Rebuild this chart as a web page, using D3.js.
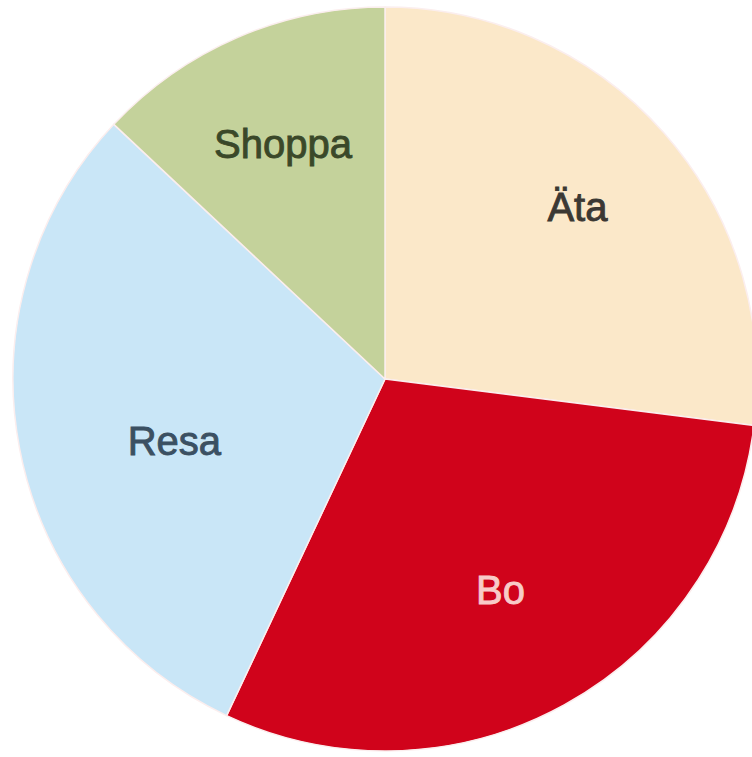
<!DOCTYPE html>
<html>
<head>
<meta charset="utf-8">
<script src="https://cdn.jsdelivr.net/npm/d3@7"></script>
<style>
  html, body { margin: 0; padding: 0; background: #ffffff; }
  svg { display: block; }
</style>
</head>
<body>
<svg id="chart" width="752" height="757"></svg>
<script>
// Share of spending per category (percent)
const categories = ["Äta", "Bo", "Resa", "Shoppa"];
const values = [27, 30, 30, 13];
const sliceColors = ["#fbe8c9", "#d0031b", "#c9e6f7", "#c4d29b"];
const labelColors = ["#3b3833", "#f8cbc8", "#3b5062", "#3a4829"];

const width = 752, height = 757;
const cx = 385, cy = 379, radius = 372;
// label placement: share of the radius along the bisector, plus a small turn (degrees)
const labelReach = { "Äta": 0.695, "Bo": 0.645, "Resa": 0.59, "Shoppa": 0.69 };
const labelTurn = { "Äta": -0.5, "Bo": 0, "Resa": -5.5, "Shoppa": 0 };

const data = categories.map((c, i) => ({ name: c, value: values[i], fill: sliceColors[i], ink: labelColors[i] }));

const svg = d3.select("#chart");
const g = svg.append("g").attr("transform", `translate(${cx},${cy})`);

const pie = d3.pie().value(d => d.value).sort(null).startAngle(0).endAngle(2 * Math.PI);
const arcs = pie(data);

const arc = d3.arc().innerRadius(0).outerRadius(radius);

g.selectAll("path.slice")
  .data(arcs)
  .join("path")
  .attr("class", "slice")
  .attr("d", arc)
  .attr("fill", d => d.data.fill)
  .attr("stroke", "#fbeeee")
  .attr("stroke-width", 1.5)
  .attr("stroke-linejoin", "round");

g.selectAll("text.label")
  .data(arcs)
  .join("text")
  .attr("class", "label")
  .attr("transform", d => {
    const r = radius * labelReach[d.data.name];
    const a = (d.startAngle + d.endAngle) / 2 + labelTurn[d.data.name] * Math.PI / 180;
    return `translate(${r * Math.sin(a)},${-r * Math.cos(a)})`;
  })
  .attr("text-anchor", "middle")
  .attr("dy", "0.36em")
  .attr("font-family", "'Liberation Sans', Arial, sans-serif")
  .attr("font-size", 40)
  .attr("fill", d => d.data.ink)
  .attr("stroke", d => d.data.ink)
  .attr("stroke-width", 0.9)
  .text(d => d.data.name);
</script>
</body>
</html>
